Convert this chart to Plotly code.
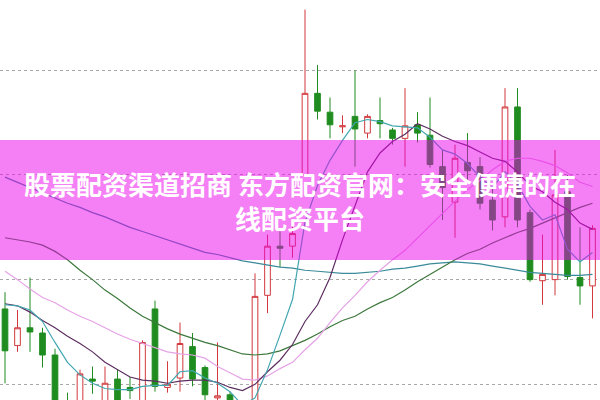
import plotly.graph_objects as go

# ---- candle data (48 sessions) ----
idx = list(range(48))
open_ = [10.72, 10.37, 10.54, 10.49, 10.28, 9.83, 9.75, 10.05, 9.83, 10.05,
         9.97, 9.80, 10.72, 9.97, 10.06, 10.36, 10.16, 9.87, 9.90, 9.66,
         9.47, 10.85, 11.32, 11.32, 12.00, 12.78, 12.60, 12.46, 12.56, 12.40,
         12.52, 12.43, 12.35, 12.48, 12.38, 12.08, 11.74, 12.12, 12.08, 11.76,
         11.60, 12.65, 11.64, 10.99, 11.00, 11.84, 11.02, 10.94]
high = [10.88, 10.71, 11.02, 10.54, 10.34, 9.92, 10.14, 10.17, 10.17, 10.14,
        10.07, 10.42, 10.80, 10.22, 10.59, 10.49, 10.18, 10.40, 9.93, 9.80,
        11.06, 11.43, 11.46, 11.53, 13.58, 13.05, 12.74, 12.57, 13.00, 12.58,
        12.74, 12.45, 12.83, 12.60, 12.74, 12.24, 12.29, 12.40, 12.17, 11.88,
        12.83, 12.83, 11.67, 11.43, 12.24, 12.00, 11.50, 11.52]
low = [10.01, 10.31, 10.31, 10.16, 9.72, 9.70, 9.70, 9.91, 9.80, 9.75,
       9.86, 9.75, 9.93, 9.92, 9.93, 9.98, 9.83, 9.80, 9.56, 9.28,
       9.42, 10.68, 11.12, 11.21, 11.98, 12.53, 12.35, 12.40, 12.08, 12.35,
       12.35, 12.29, 12.08, 12.31, 12.07, 11.57, 11.40, 11.95, 11.67, 11.47,
       11.50, 11.50, 10.98, 10.76, 10.85, 11.00, 10.76, 10.63]
close = [10.32, 10.54, 10.50, 10.28, 9.80, 9.77, 10.10, 10.03, 10.01, 9.80,
         9.94, 10.40, 9.98, 10.00, 10.39, 10.05, 9.90, 9.89, 9.61, 9.37,
         10.84, 11.32, 11.30, 11.44, 12.78, 12.61, 12.48, 12.47, 12.44, 12.56,
         12.49, 12.35, 12.47, 12.40, 12.10, 11.88, 12.16, 12.04, 11.73, 11.57,
         12.65, 11.57, 11.00, 11.05, 11.81, 11.03, 10.94, 11.49]

# ---- moving averages ----
ma5 = [10.76, 10.75, 10.71, 10.60, 10.40, 10.21, 10.09, 10.01, 9.96, 9.95,
       9.95, 9.98, 9.99, 9.99, 10.12, 10.13, 10.06, 10.01, 9.93, 9.80,
       9.87, 10.14, 10.47, 10.81, 11.55, 11.90, 12.14, 12.33, 12.50, 12.53,
       12.51, 12.47, 12.46, 12.45, 12.36, 12.24, 12.20, 12.11, 11.98, 11.88,
       12.03, 11.91, 11.70, 11.57, 11.62, 11.29, 11.17, 11.26]
ma10 = [10.77, 10.75, 10.69, 10.61, 10.54, 10.46, 10.39, 10.31, 10.21, 10.14,
        10.07, 10.04, 10.03, 10.01, 10.03, 10.04, 10.04, 10.02, 9.97, 9.94,
        10.00, 10.12, 10.23, 10.38, 10.60, 10.76, 11.02, 11.38, 11.71, 12.03,
        12.21, 12.32, 12.39, 12.49, 12.44, 12.37, 12.32, 12.28, 12.22, 12.16,
        12.13, 12.03, 11.90, 11.84, 11.74, 11.67, 11.54, 11.48]
ma20 = [11.08, 11.00, 10.91, 10.83, 10.78, 10.71, 10.65, 10.60, 10.54, 10.48,
        10.43, 10.39, 10.35, 10.31, 10.29, 10.28, 10.25, 10.17, 10.11, 10.05,
        10.04, 10.08, 10.15, 10.21, 10.33, 10.44, 10.59, 10.73, 10.85, 10.98,
        11.09, 11.19, 11.28, 11.40, 11.52, 11.64, 11.75, 11.86, 11.95, 12.05,
        12.13, 12.16, 12.16, 12.13, 12.09, 12.02, 11.93, 11.89]
ma30 = [11.40, 11.38, 11.36, 11.33, 11.27, 11.19, 11.09, 11.00, 10.90, 10.82,
        10.73, 10.65, 10.59, 10.53, 10.48, 10.44, 10.40, 10.37, 10.33, 10.29,
        10.28, 10.29, 10.32, 10.37, 10.42, 10.48, 10.55, 10.61, 10.65, 10.72,
        10.78, 10.83, 10.90, 10.98, 11.05, 11.12, 11.19, 11.25, 11.29, 11.35,
        11.40, 11.45, 11.49, 11.54, 11.59, 11.64, 11.69, 11.73]
ma60 = [11.98, 11.93, 11.88, 11.83, 11.78, 11.73, 11.69, 11.64, 11.60, 11.55,
        11.50, 11.46, 11.42, 11.38, 11.34, 11.30, 11.26, 11.24, 11.21, 11.18,
        11.16, 11.14, 11.12, 11.11, 11.09, 11.08, 11.07, 11.06, 11.06, 11.07,
        11.08, 11.10, 11.11, 11.13, 11.15, 11.16, 11.17, 11.16, 11.15, 11.13,
        11.11, 11.09, 11.07, 11.06, 11.05, 11.04, 11.04, 11.05]

grid_levels = [10, 11, 12, 13]
title_line1 = "股票配资渠道招商 东方配资官网：安全便捷的在"
title_line2 = "线配资平台"

RED = "#d2383c"
GREEN = "#1f8c1f"

fig = go.Figure()
fig.add_trace(go.Candlestick(
    x=idx, open=open_, high=high, low=low, close=close,
    increasing=dict(line=dict(color=RED, width=1), fillcolor="#ffffff"),
    decreasing=dict(line=dict(color=GREEN, width=1), fillcolor=GREEN),
    whiskerwidth=0, showlegend=False, hoverinfo="skip",
))

for vals, col in [(ma60, "#3b8a9a"), (ma30, "#3c783c"), (ma20, "#e6a2e6"),
                  (ma10, "#5c2e60"), (ma5, "#42a6b0")]:
    fig.add_trace(go.Scatter(x=idx, y=vals, mode="lines",
                             line=dict(color=col, width=1.2),
                             showlegend=False, hoverinfo="skip"))

fig.add_shape(type="rect", xref="paper", yref="paper", x0=0, x1=1,
              y0=0.35, y1=0.65, fillcolor="rgba(236,0,236,0.5)",
              line=dict(width=0), layer="above")

font = dict(family="Noto Sans CJK SC", size=26, color="#ffffff")
fig.add_annotation(text="<b>" + title_line1 + "</b>", xref="paper", yref="paper",
                   x=0.5, y=(400 - 183) / 400, showarrow=False, font=font,
                   xanchor="center", yanchor="middle")
fig.add_annotation(text="<b>" + title_line2 + "</b>", xref="paper", yref="paper",
                   x=0.5, y=(400 - 218) / 400, showarrow=False, font=font,
                   xanchor="center", yanchor="middle")

fig.update_layout(
    width=600, height=400, margin=dict(l=0, r=0, t=0, b=0),
    paper_bgcolor="#ffffff", plot_bgcolor="#ffffff",
    boxgap=0.35,
    xaxis=dict(range=[-0.4, 47.6], visible=False, rangeslider=dict(visible=False),
               showgrid=False, zeroline=False),
    yaxis=dict(range=[9.85, 13.672], tickvals=grid_levels, showticklabels=False,
               showgrid=True, gridcolor="#a8a8a8", griddash="dot", gridwidth=1,
               zeroline=False, showline=False, ticks=""),
)

fig.write_html("out.html", config={"displayModeBar": False},
               post_script="document.body.style.margin='0';document.body.style.overflow='hidden';")
